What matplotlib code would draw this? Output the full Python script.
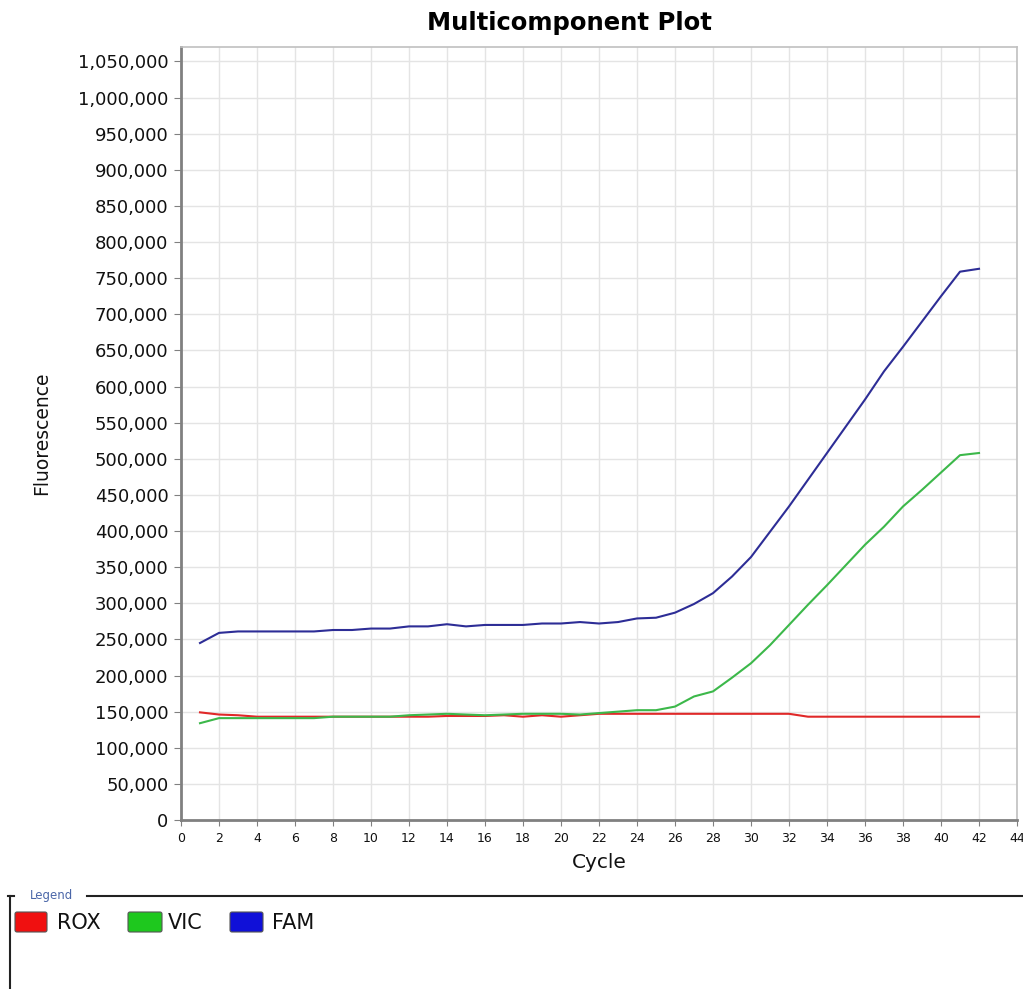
import matplotlib
matplotlib.use("Agg")
import matplotlib.pyplot as plt
from matplotlib.patches import FancyBboxPatch
from matplotlib.lines import Line2D
from matplotlib.ticker import MultipleLocator, FuncFormatter

cycles = list(range(1, 43))
fam = [245, 259, 261, 261, 261, 261, 261, 263, 263, 265, 265, 268, 268, 271, 268, 270,
       270, 270, 272, 272, 274, 272, 274, 279, 280, 287, 299, 314, 337, 364, 399, 434,
       471, 508, 545, 582, 621, 655, 690, 725, 759, 763]
vic = [134, 141, 141, 141, 141, 141, 141, 143, 143, 143, 143, 145, 146, 147, 146, 145,
       146, 147, 147, 147, 146, 148, 150, 152, 152, 157, 171, 178, 197, 217, 242, 270,
       298, 325, 353, 381, 406, 434, 457, 481, 505, 508]
rox = [149, 146, 145, 143, 143, 143, 143, 143, 143, 143, 143, 143, 143, 144, 144, 144,
       145, 143, 145, 143, 145, 147, 147, 147, 147, 147, 147, 147, 147, 147, 147, 147,
       143, 143, 143, 143, 143, 143, 143, 143, 143, 143]
series_names = ["ROX", "VIC", "FAM"]
series_colors = ["#e02828", "#3cb84a", "#2d2d96"]
legend_colors = ["#f01010", "#1ec81e", "#1010d8"]

fig = plt.figure(figsize=(10.23, 9.89), dpi=100)
ax = fig.add_axes([181/1023, 1-820/989, (1017-181)/1023, (820-47)/989])

data = [rox, vic, fam]
for vals, c in zip(data, series_colors):
    ax.plot(cycles, [v*1000 for v in vals], color=c, lw=1.5, zorder=3)

ax.set_xlim(0, 44)
ax.set_ylim(0, 1070000)
ax.xaxis.set_major_locator(MultipleLocator(2))
ax.yaxis.set_major_locator(MultipleLocator(50000))
ax.yaxis.set_major_formatter(FuncFormatter(lambda v, p: f"{int(v):,}"))
ax.grid(True, color="#e4e4e4", lw=1.0)
ax.set_axisbelow(True)
for s in ["left", "bottom"]:
    ax.spines[s].set_color("#808080")
    ax.spines[s].set_linewidth(2)
for s in ["top", "right"]:
    ax.spines[s].set_color("#c0c0c0")
    ax.spines[s].set_linewidth(1.2)
ax.tick_params(axis="y", length=5, color="#808080", labelsize=13, pad=4)
ax.tick_params(axis="x", length=4, color="#808080", labelsize=9, pad=5)
for t in ax.get_yticklabels() + ax.get_xticklabels():
    t.set_family("DejaVu Sans")
    t.set_color("#111111")

fig.text(569/1023, 1-23/989, "Multicomponent Plot", ha="center", va="center",
         fontsize=17.5, fontweight="heavy", family="DejaVu Sans")
fig.text(42/1023, 1-433/989, "Fluorescence", ha="center", va="center", rotation=90,
         fontsize=13.5, family="DejaVu Sans", color="#111111")
fig.text(599/1023, 1-863/989, "Cycle", ha="center", va="center",
         fontsize=14.5, family="DejaVu Sans", color="#111111")

# Legend frame
def fx(x): return x/1023
def fy(y): return 1-y/989
fig.add_artist(Line2D([fx(8), fx(14)], [fy(896), fy(896)], color="#222222", lw=1.5))
fig.add_artist(Line2D([fx(87), fx(1023)], [fy(896), fy(896)], color="#222222", lw=1.5))
fig.add_artist(Line2D([fx(10), fx(10)], [fy(896), fy(989)], color="#222222", lw=1.5))
fig.text(fx(30), fy(895), "Legend", ha="left", va="center", fontsize=8.5,
         color="#4a66a8", family="DejaVu Sans")

sq_x = [15, 128, 230]
sq_w = [32, 34, 33]
tx_x = [57, 168, 272]
for name, col, sx, sw, tx in zip(series_names, legend_colors, sq_x, sq_w, tx_x):
    fig.add_artist(FancyBboxPatch((fx(sx), fy(932)), sw/1023, 20/989,
                                  boxstyle="round,pad=0,rounding_size=0.002",
                                  facecolor=col, edgecolor="#555555", lw=0.8,
                                  transform=fig.transFigure))
    fig.text(fx(tx), fy(923), name, ha="left", va="center", fontsize=15,
             family="DejaVu Sans", color="#111111")

fig.savefig("out.png", dpi=100)
